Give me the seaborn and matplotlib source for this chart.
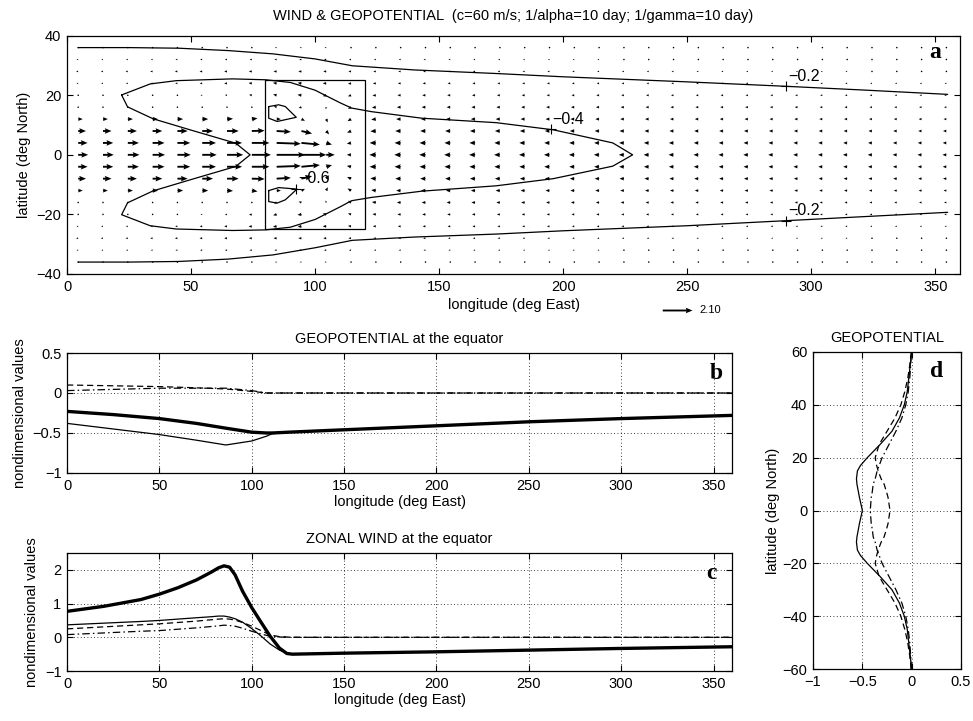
import numpy as np
import matplotlib
matplotlib.use("Agg")
import matplotlib.pyplot as plt
from matplotlib.ticker import FuncFormatter, MultipleLocator
from matplotlib.patches import Rectangle
import seaborn as sns

# ------------------------------------------------------------------
# Panel a: wind vectors (northern half, lat 0..36; south is mirrored)
# ------------------------------------------------------------------
quiver_lon = [4.5, 14.5, 24.5, 34.5, 44.5, 54.5, 64.5, 74.5, 84.5, 94.5, 104.5, 114.5,
              124.5, 134.5, 144.5, 154.5, 164.5, 174.5, 184.5, 194.5, 204.5, 214.5,
              224.5, 234.5, 244.5, 254.5, 264.5, 274.5, 284.5, 294.5, 304.5, 314.5,
              324.5, 334.5, 344.5, 354.5]
quiver_lat_north = [0, 4, 8, 12, 16, 20, 24, 28, 32, 36]

u_north = np.array([
    [0.70, 0.76, 0.82, 0.88, 0.94, 1.02, 1.14, 1.35, 2.00, 1.75, 0.60, -0.30, -0.46, -0.45, -0.44, -0.43, -0.42, -0.41, -0.40, -0.39, -0.38, -0.37, -0.36, -0.36, -0.35, -0.34, -0.33, -0.33, -0.32, -0.31, -0.31, -0.30, -0.30, -0.29, -0.29, -0.28],
    [0.66, 0.72, 0.78, 0.84, 0.90, 0.97, 1.06, 1.24, 1.70, 1.30, 0.40, -0.30, -0.44, -0.43, -0.42, -0.41, -0.40, -0.39, -0.38, -0.37, -0.36, -0.35, -0.34, -0.34, -0.33, -0.32, -0.31, -0.31, -0.30, -0.29, -0.29, -0.28, -0.28, -0.27, -0.27, -0.26],
    [0.55, 0.60, 0.64, 0.68, 0.72, 0.76, 0.82, 0.90, 1.00, 0.75, 0.20, -0.28, -0.39, -0.38, -0.37, -0.36, -0.36, -0.35, -0.34, -0.33, -0.32, -0.31, -0.31, -0.30, -0.29, -0.29, -0.28, -0.28, -0.27, -0.26, -0.26, -0.25, -0.25, -0.25, -0.24, -0.24],
    [0.32, 0.34, 0.36, 0.38, 0.40, 0.42, 0.42, 0.40, 0.30, 0.25, 0.10, -0.25, -0.33, -0.32, -0.32, -0.31, -0.30, -0.30, -0.29, -0.28, -0.28, -0.27, -0.26, -0.26, -0.25, -0.25, -0.24, -0.24, -0.23, -0.23, -0.22, -0.22, -0.21, -0.21, -0.21, -0.20],
    [0.05, 0.05, 0.05, 0.05, 0.05, 0.04, 0.02, -0.05, -0.20, -0.20, -0.05, -0.22, -0.28, -0.27, -0.27, -0.26, -0.26, -0.25, -0.25, -0.24, -0.24, -0.23, -0.23, -0.22, -0.22, -0.21, -0.21, -0.20, -0.20, -0.20, -0.19, -0.19, -0.18, -0.18, -0.18, -0.17],
    [-0.05, -0.06, -0.07, -0.08, -0.10, -0.12, -0.15, -0.20, -0.25, -0.28, -0.25, -0.22, -0.24, -0.23, -0.23, -0.22, -0.22, -0.21, -0.21, -0.20, -0.20, -0.20, -0.19, -0.19, -0.18, -0.18, -0.18, -0.17, -0.17, -0.17, -0.16, -0.16, -0.16, -0.15, -0.15, -0.15],
    [-0.12, -0.13, -0.14, -0.15, -0.16, -0.18, -0.20, -0.23, -0.26, -0.27, -0.25, -0.22, -0.21, -0.20, -0.20, -0.19, -0.19, -0.18, -0.18, -0.18, -0.17, -0.17, -0.17, -0.16, -0.16, -0.16, -0.15, -0.15, -0.15, -0.14, -0.14, -0.14, -0.13, -0.13, -0.13, -0.13],
    [-0.15, -0.15, -0.16, -0.17, -0.18, -0.19, -0.20, -0.21, -0.22, -0.22, -0.21, -0.19, -0.18, -0.17, -0.17, -0.16, -0.16, -0.16, -0.15, -0.15, -0.15, -0.14, -0.14, -0.14, -0.14, -0.13, -0.13, -0.13, -0.12, -0.12, -0.12, -0.12, -0.11, -0.11, -0.11, -0.11],
    [-0.12, -0.12, -0.13, -0.13, -0.14, -0.15, -0.15, -0.16, -0.16, -0.16, -0.16, -0.15, -0.14, -0.14, -0.14, -0.13, -0.13, -0.13, -0.12, -0.12, -0.12, -0.12, -0.11, -0.11, -0.11, -0.11, -0.10, -0.10, -0.10, -0.10, -0.10, -0.09, -0.09, -0.09, -0.09, -0.09],
    [-0.08, -0.08, -0.09, -0.09, -0.10, -0.10, -0.11, -0.11, -0.12, -0.12, -0.12, -0.11, -0.11, -0.10, -0.10, -0.10, -0.10, -0.09, -0.09, -0.09, -0.09, -0.09, -0.08, -0.08, -0.08, -0.08, -0.08, -0.08, -0.07, -0.07, -0.07, -0.07, -0.07, -0.07, -0.06, -0.06],
])

# meridional wind only matters near the forcing (lon 64.5 .. 124.5, columns 6..12)
v_block_north = np.array([
    [0.00, 0.00, 0.00, 0.00, 0.00, 0.00, 0.00],
    [0.00, 0.00, -0.05, -0.10, -0.10, -0.05, 0.00],
    [0.00, 0.02, -0.05, -0.15, -0.20, -0.10, -0.02],
    [0.02, 0.05, 0.00, -0.10, -0.20, -0.12, -0.03],
    [0.03, 0.05, 0.05, -0.05, -0.12, -0.10, -0.03],
    [0.02, 0.03, 0.05, 0.03, -0.05, -0.06, -0.02],
    [0.00, 0.02, 0.03, 0.03, 0.00, -0.03, -0.01],
    [0.00, 0.00, 0.00, 0.00, 0.00, 0.00, 0.00],
    [0.00, 0.00, 0.00, 0.00, 0.00, 0.00, 0.00],
    [0.00, 0.00, 0.00, 0.00, 0.00, 0.00, 0.00],
])
v_block_first_col = 6
wind_key_value = 2.10

# forcing box
forcing_lon = [80, 120]
forcing_lat = [-25, 25]

# geopotential contours
c02_lon = [4.5, 25, 45, 65, 83, 100, 115, 140, 173, 200, 250, 290, 320, 355]
c02_north_lat = [36.0, 36.0, 35.8, 35.0, 33.9, 32.2, 29.9, 28.5, 27.3, 26.2, 24.5, 23.0, 21.8, 20.3]
c02_south_lat = [-36.0, -36.0, -35.8, -35.0, -33.6, -31.2, -28.7, -27.6, -26.6, -25.5, -23.8, -22.1, -20.8, -19.3]

c04_lon = [22, 24.4, 34.7, 50, 68, 73.8, 68, 50, 34.7, 24.4, 22, 33.5, 44, 66.7, 80, 90, 100, 110, 114.7, 122.7,
           143, 173, 196, 220, 228, 220, 196, 173, 143, 122.7, 114.7, 110, 100, 90, 80, 66.7, 44, 33.5, 22]
c04_lat = [20.1, 16.1, 12.1, 8.3, 3.9, 0.0, -3.9, -8.3, -12.1, -16.1, -20.1, -23.8, -24.9, -25.4, -25.2, -24.3, -21.7,
           -17.5, -15.4, -14.3, -12.2, -10.4, -8.0, -3.8, 0.0, 4.0, 8.4, 10.8, 12.3, 14.5, 15.7, 17.5, 21.7, 24.3, 25.2,
           25.5, 24.9, 23.8, 20.1]

c06n_lon = [81.3, 85.3, 88.0, 92.4, 84.7, 81.3, 81.3]
c06n_lat = [16.2, 16.8, 16.2, 12.6, 11.2, 12.3, 16.2]
c06s_lon = [81.3, 85.3, 92.7, 88.0, 84.7, 81.3, 81.3]
c06s_lat = [-12.0, -11.0, -11.5, -15.1, -16.2, -15.7, -12.0]

contour_labels = ["\u22120.2", "\u22120.2", "\u22120.4", "\u22120.6"]
contour_label_lon = [290, 290, 195, 92.5]
contour_label_lat = [23.0, -22.1, 8.6, -11.5]

# ------------------------------------------------------------------
# Panel b: geopotential at the equator
# ------------------------------------------------------------------
geo_lon = [0, 25, 50, 70, 86, 100, 108, 111, 120, 150, 200, 250, 300, 360]
geo_total = [-0.23, -0.27, -0.32, -0.38, -0.44, -0.49, -0.50, -0.50, -0.49, -0.46, -0.41, -0.36, -0.32, -0.28]
geo_thin = [-0.38, -0.45, -0.52, -0.59, -0.65, -0.60, -0.54, -0.51, -0.49, -0.46, -0.41, -0.36, -0.32, -0.28]
geo_dashed = [0.10, 0.09, 0.08, 0.065, 0.05, 0.02, 0.0, 0.0, 0.0, 0.0, 0.0, 0.0, 0.0, 0.0]
geo_dashdot = [0.03, 0.045, 0.06, 0.06, 0.06, 0.03, 0.0, 0.0, 0.0, 0.0, 0.0, 0.0, 0.0, 0.0]

# ------------------------------------------------------------------
# Panel c: zonal wind at the equator
# ------------------------------------------------------------------
uw_lon = [0, 20, 40, 50, 60, 70, 78, 82, 85, 88, 91, 95, 100, 105, 110, 115, 119, 122, 150, 200, 250, 300, 360]
uw_total = [0.77, 0.92, 1.12, 1.28, 1.47, 1.70, 1.93, 2.06, 2.12, 2.08, 1.85, 1.37, 0.88, 0.45, 0.03, -0.32, -0.48,
            -0.50, -0.47, -0.43, -0.38, -0.33, -0.28]
uw_thin = [0.37, 0.42, 0.47, 0.50, 0.54, 0.58, 0.61, 0.63, 0.63, 0.60, 0.55, 0.45, 0.26, 0.04, -0.20, -0.38, -0.47,
           -0.50, -0.47, -0.43, -0.38, -0.33, -0.28]
uw_dashed = [0.25, 0.31, 0.37, 0.40, 0.44, 0.48, 0.52, 0.54, 0.55, 0.54, 0.51, 0.44, 0.33, 0.20, 0.07, 0.02, 0.01,
             0.0, 0.0, 0.0, 0.0, 0.0, 0.0]
uw_dashdot = [0.08, 0.13, 0.18, 0.20, 0.24, 0.28, 0.32, 0.34, 0.36, 0.35, 0.33, 0.27, 0.18, 0.10, 0.03, 0.01, 0.0,
              0.0, 0.0, 0.0, 0.0, 0.0, 0.0]

# ------------------------------------------------------------------
# Panel d: geopotential vs latitude (north half, mirrored)
# ------------------------------------------------------------------
prof_lat_north = [60, 55, 50, 45, 40, 35, 30, 25, 20, 17, 15, 12, 10, 7, 5, 0]
prof_solid = [0.0, -0.015, -0.03, -0.045, -0.075, -0.125, -0.20, -0.32, -0.45, -0.52, -0.55, -0.56, -0.555, -0.54,
              -0.53, -0.50]
prof_dashed = [-0.005, -0.02, -0.04, -0.07, -0.11, -0.17, -0.25, -0.33, -0.37, -0.355, -0.34, -0.31, -0.28, -0.255,
               -0.24, -0.22]
prof_dashdot = [-0.005, -0.01, -0.02, -0.035, -0.06, -0.10, -0.16, -0.23, -0.30, -0.33, -0.35, -0.37, -0.39, -0.40,
                -0.41, -0.42]


def mirror(lat_half, val_half):
    lat = [-v for v in lat_half] + lat_half[::-1][1:]
    val = list(val_half) + list(val_half[::-1][1:])
    return lat, val


sns.set_theme(style="ticks")
plt.rcParams["font.family"] = ["Liberation Sans", "DejaVu Sans"]
plt.rcParams["axes.linewidth"] = 0.9
plt.rcParams["axes.edgecolor"] = "black"
plt.rcParams["text.color"] = "black"
plt.rcParams["axes.labelcolor"] = "black"
plt.rcParams["xtick.color"] = "black"
plt.rcParams["ytick.color"] = "black"

DASH = (0, (5, 3))
DASHDOT = (0, (6, 2.5, 1.2, 2.5))
fmt = FuncFormatter(lambda v, p: f"{v:g}".replace("-", "\u2212"))
letter_font = dict(family=["Liberation Serif", "DejaVu Serif"], fontweight="bold", fontsize=17)

fig = plt.figure(figsize=(9.73, 7.21), dpi=100)
ax_a = fig.add_axes([0.0689, 0.620, 0.9178, 0.3305])
ax_b = fig.add_axes([0.0689, 0.344, 0.6834, 0.1664])
ax_c = fig.add_axes([0.0689, 0.0693, 0.6834, 0.1637])
ax_d = fig.add_axes([0.8356, 0.0721, 0.1521, 0.4397])

for ax in (ax_a, ax_b, ax_c, ax_d):
    ax.tick_params(direction="in", top=True, right=True, length=4, width=0.8, labelsize=10.5, pad=4)
    ax.xaxis.set_major_formatter(fmt)
    ax.yaxis.set_major_formatter(fmt)
    for s in ax.spines.values():
        s.set_visible(True)

# ---------------- panel a ----------------
lat_full = [-v for v in quiver_lat_north[:0:-1]] + quiver_lat_north
u_full = np.vstack([u_north[:0:-1], u_north])
v_north = np.zeros_like(u_north)
v_north[:, v_block_first_col:v_block_first_col + v_block_north.shape[1]] = v_block_north
v_full = np.vstack([-v_north[:0:-1], v_north])
LON, LAT = np.meshgrid(quiver_lon, lat_full)

q = ax_a.quiver(LON, LAT, u_full, v_full, angles="xy", scale_units="xy", scale=0.175,
                color="black", width=0.0021, headwidth=3.0, headlength=3.6, headaxislength=3.2,
                minlength=0.9, pivot="tail", zorder=2)
ax_a.quiverkey(q, 0.711, 0.570, wind_key_value, f"{wind_key_value:.2f}", coordinates="figure",
               labelpos="E", labelsep=0.08, fontproperties={"size": 8})

ax_a.add_patch(Rectangle((forcing_lon[0], forcing_lat[0]), forcing_lon[1] - forcing_lon[0],
                         forcing_lat[1] - forcing_lat[0], fill=False, ec="black", lw=0.9, zorder=3))
for xs, ys in [(c02_lon, c02_north_lat), (c02_lon, c02_south_lat), (c04_lon, c04_lat),
               (c06n_lon, c06n_lat), (c06s_lon, c06s_lat)]:
    sns.lineplot(x=xs, y=ys, ax=ax_a, sort=False, estimator=None, color="black", lw=0.9, zorder=3)
for lab, lx, ly in zip(contour_labels, contour_label_lon, contour_label_lat):
    ax_a.plot(lx, ly, marker="+", color="black", ms=7, mew=0.8, zorder=4)
    ax_a.text(lx + 0.8, ly + 0.9, lab, fontsize=11.5, ha="left", va="bottom", zorder=4)

ax_a.set_xlim(0, 360)
ax_a.set_ylim(-40, 40)
ax_a.xaxis.set_major_locator(MultipleLocator(50))
ax_a.yaxis.set_major_locator(MultipleLocator(20))
ax_a.set_xlabel("longitude (deg East)", fontsize=10.5, labelpad=3)
ax_a.set_ylabel("latitude (deg North)", fontsize=10.5, labelpad=4)
ax_a.set_title("WIND & GEOPOTENTIAL  (c=60 m/s; 1/alpha=10 day; 1/gamma=10 day)", fontsize=10.5, pad=11)
ax_a.text(0.972, 0.93, "a", transform=ax_a.transAxes, ha="center", va="center", **letter_font)

# ---------------- panel b ----------------
sns.lineplot(x=geo_lon, y=geo_dashed, ax=ax_b, color="black", lw=0.9, ls=DASH)
sns.lineplot(x=geo_lon, y=geo_dashdot, ax=ax_b, color="black", lw=0.9, ls=DASHDOT)
sns.lineplot(x=geo_lon, y=geo_thin, ax=ax_b, color="black", lw=0.9)
sns.lineplot(x=geo_lon, y=geo_total, ax=ax_b, color="black", lw=2.4)
ax_b.set_xlim(0, 360)
ax_b.set_ylim(-1, 0.5)
ax_b.xaxis.set_major_locator(MultipleLocator(50))
ax_b.yaxis.set_major_locator(MultipleLocator(0.5))
ax_b.set_xlabel("longitude (deg East)", fontsize=10.5, labelpad=2)
ax_b.set_ylabel("nondimensional values", fontsize=10.5, labelpad=4)
ax_b.set_title("GEOPOTENTIAL at the equator", fontsize=10.5, pad=7)
ax_b.text(0.977, 0.83, "b", transform=ax_b.transAxes, ha="center", va="center", **letter_font)

# ---------------- panel c ----------------
sns.lineplot(x=uw_lon, y=uw_dashed, ax=ax_c, color="black", lw=0.9, ls=DASH)
sns.lineplot(x=uw_lon, y=uw_dashdot, ax=ax_c, color="black", lw=0.9, ls=DASHDOT)
sns.lineplot(x=uw_lon, y=uw_thin, ax=ax_c, color="black", lw=0.9)
sns.lineplot(x=uw_lon, y=uw_total, ax=ax_c, color="black", lw=2.4)
ax_c.set_xlim(0, 360)
ax_c.set_ylim(-1, 2.5)
ax_c.xaxis.set_major_locator(MultipleLocator(50))
ax_c.yaxis.set_major_locator(MultipleLocator(1))
ax_c.set_xlabel("longitude (deg East)", fontsize=10.5, labelpad=2)
ax_c.set_ylabel("nondimensional values", fontsize=10.5, labelpad=4)
ax_c.set_title("ZONAL WIND at the equator", fontsize=10.5, pad=7)
ax_c.text(0.969, 0.83, "c", transform=ax_c.transAxes, ha="center", va="center", **letter_font)

# ---------------- panel d ----------------
for vals, ls in [(prof_dashed, DASH), (prof_dashdot, DASHDOT), (prof_solid, "-")]:
    lat_m, val_m = mirror(prof_lat_north, vals)
    sns.lineplot(x=val_m, y=lat_m, ax=ax_d, sort=False, estimator=None, color="black", lw=0.9, ls=ls)
ax_d.set_xlim(-1, 0.5)
ax_d.set_ylim(-60, 60)
ax_d.xaxis.set_major_locator(MultipleLocator(0.5))
ax_d.yaxis.set_major_locator(MultipleLocator(20))
ax_d.set_ylabel("latitude (deg North)", fontsize=10.5, labelpad=2)
ax_d.set_title("GEOPOTENTIAL", fontsize=10.5, pad=7)
ax_d.text(0.836, 0.938, "d", transform=ax_d.transAxes, ha="center", va="center", **letter_font)

for ax in (ax_b, ax_c, ax_d):
    ax.grid(True, ls=(0, (1, 3)), color="black", lw=0.6)
    ax.set_axisbelow(True)

fig.savefig("out.png", dpi=100)
